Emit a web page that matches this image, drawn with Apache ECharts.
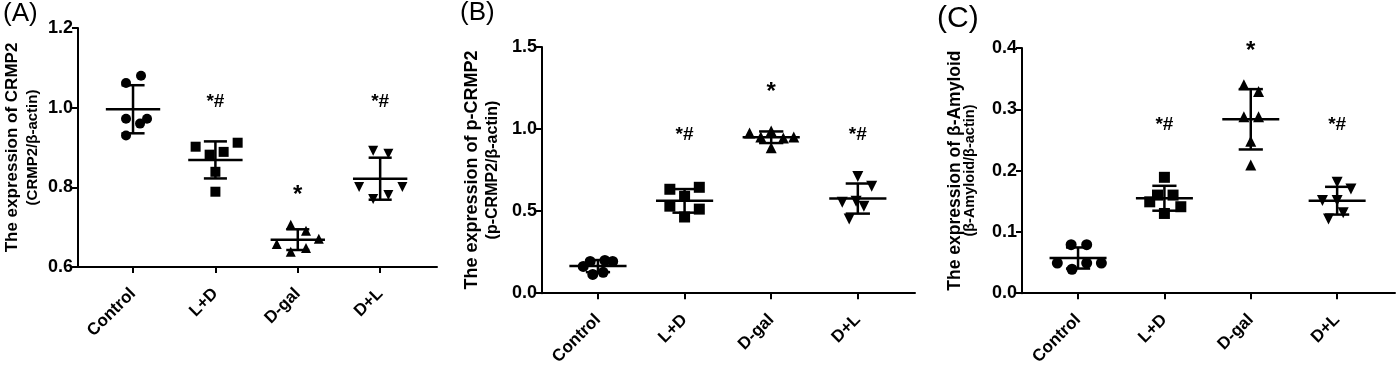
<!DOCTYPE html>
<html>
<head>
<meta charset="utf-8">
<script src="https://cdn.jsdelivr.net/npm/echarts@6/dist/echarts.min.js"></script>
<style>html,body{margin:0;padding:0;background:#fff;}#c{width:1400px;height:368px;}</style>
</head>
<body>
<div id="c"></div>
<script>
// ---------- data ----------
const categories = ['Control', 'L+D', 'D-gal', 'D+L'];

// Panel A: CRMP2 / β-actin
const aValues = [
  [1.062, 1.08, 0.972, 0.96, 0.972, 0.93],
  [0.902, 0.882, 0.889, 0.912, 0.839, 0.789],
  [0.706, 0.691, 0.671, 0.658, 0.638, 0.648],
  [0.892, 0.884, 0.801, 0.801, 0.771, 0.781]
];
const aJitter = [
  [-0.085, 0.097, -0.085, 0.085, 0.17, -0.085],
  [-0.24, -0.07, 0.1, 0.27, 0, 0],
  [-0.085, 0.1, 0.255, -0.255, -0.085, 0.1],
  [-0.085, 0.1, -0.255, 0.27, -0.085, 0.1]
];
const aMarks = ['', '*#', '*', '*#'];
const aMarkY = [null, 1.015, 0.78, 1.015];

// Panel B: p-CRMP2 / β-actin
const bValues = [
  [0.193, 0.199, 0.193, 0.163, 0.114, 0.127],
  [0.633, 0.645, 0.59, 0.53, 0.512, 0.464],
  [0.976, 0.952, 0.988, 0.946, 0.952, 0.886],
  [0.711, 0.651, 0.554, 0.56, 0.53, 0.452]
];
const bJitter = [
  [-0.09, 0.08, 0.17, -0.17, -0.06, 0.06],
  [-0.17, 0.17, 0, -0.17, 0.17, 0],
  [-0.25, -0.12, 0, 0.14, 0.26, 0],
  [0, 0.16, -0.18, -0.02, 0.07, -0.1]
];
const bMarks = ['', '*#', '*', '*#'];
const bMarkY = [null, 0.964, 1.223, 0.964];

// Panel C: β-Amyloid / β-actin
const cValues = [
  [0.079, 0.079, 0.049, 0.049, 0.049, 0.039],
  [0.189, 0.16, 0.16, 0.149, 0.141, 0.13],
  [0.34, 0.329, 0.288, 0.288, 0.248, 0.209],
  [0.181, 0.17, 0.151, 0.151, 0.131, 0.121]
];
const cJitter = [
  [-0.08, 0.1, -0.24, 0.27, 0.1, -0.07],
  [0, -0.08, 0.1, -0.17, 0.19, 0],
  [-0.08, 0.09, -0.08, 0.09, 0, 0],
  [0, 0.16, -0.17, 0, 0.07, -0.1]
];
const cMarks = ['', '*#', '*', '*#'];
const cMarkY = [null, 0.275, 0.395, 0.275];

// y-axis settings / tick labels
const aTicks = { min: 0.6, max: 1.2, interval: 0.2 };
const bTicks = { min: 0.0, max: 1.5, interval: 0.5 };
const cTicks = { min: 0.0, max: 0.4, interval: 0.1 };

const panelLetters = ['(A)', '(B)', '(C)'];
const yTitles = [
  ['The expression of CRMP2', '(CRMP2/β-actin)'],
  ['The expression of p-CRMP2', '(p-CRMP2/β-actin)'],
  ['The expression of β-Amyloid', '(β-Amyloid/β-actin)']
];

// ---------- helpers ----------
const FONT = '"Liberation Sans", Arial, sans-serif';
const symbols = [
  { symbol: 'circle', rotate: 0 },
  { symbol: 'rect', rotate: 0 },
  { symbol: 'triangle', rotate: 0 },
  { symbol: 'triangle', rotate: 180 }
];
function mean(a) { return a.reduce((s, v) => s + v, 0) / a.length; }
function sd(a) { const m = mean(a); return Math.sqrt(a.reduce((s, v) => s + (v - m) * (v - m), 0) / (a.length - 1)); }

const grids = [
  { left: 78, top: 28, width: 359, height: 239 },
  { left: 542, top: 47, width: 373, height: 248 },
  { left: 1022, top: 48, width: 373, height: 247 }
];
const xRange = [[-0.668, 3.69], [-0.646, 3.66], [-0.649, 3.67]];
const nameCfg = [
  { f1: 17, f2: 15, lh1: 22, lh2: 20, gap: 35 },
  { f1: 18, f2: 16, lh1: 22, lh2: 20, gap: 39 },
  { f1: 17.5, f2: 14.5, lh1: 16, lh2: 14, gap: 45 }
];
const panels = [
  { values: aValues, jitter: aJitter, marks: aMarks, markY: aMarkY, ticks: aTicks },
  { values: bValues, jitter: bJitter, marks: bMarks, markY: bMarkY, ticks: bTicks },
  { values: cValues, jitter: cJitter, marks: cMarks, markY: cMarkY, ticks: cTicks }
];

const xAxes = [], yAxes = [], series = [];
panels.forEach((p, pi) => {
  xAxes.push({
    gridIndex: pi, type: 'value', min: xRange[pi][0], max: xRange[pi][1],
    axisLine: { show: true, onZero: false, lineStyle: { color: '#000', width: 2 } },
    axisTick: { show: true, customValues: [0, 1, 2, 3], length: 6, lineStyle: { color: '#000', width: 2 } },
    axisLabel: {
      customValues: [0, 1, 2, 3], formatter: v => categories[Math.round(v)] || '',
      rotate: 45, fontSize: 17, fontWeight: 'bold', color: '#000', fontFamily: FONT, margin: 24
    },
    splitLine: { show: false }
  });
  const nc = nameCfg[pi];
  yAxes.push({
    gridIndex: pi, type: 'value', min: p.ticks.min, max: p.ticks.max, interval: p.ticks.interval,
    axisLine: { show: true, onZero: false, lineStyle: { color: '#000', width: 2 } },
    axisTick: { show: true, length: 6, lineStyle: { color: '#000', width: 2 } },
    axisLabel: { formatter: v => v.toFixed(1), fontSize: 18, fontWeight: 'bold', color: '#000', fontFamily: FONT, margin: 5 },
    splitLine: { show: false },
    name: '{a|' + yTitles[pi][0] + '}\n{b|' + yTitles[pi][1] + '}',
    nameLocation: 'middle', nameRotate: 90, nameGap: nc.gap,
    nameTextStyle: {
      color: '#000', fontFamily: FONT, align: 'center',
      rich: {
        a: { fontSize: nc.f1, fontWeight: 'bold', lineHeight: nc.lh1, color: '#000', fontFamily: FONT, align: 'center' },
        b: { fontSize: nc.f2, fontWeight: 'bold', lineHeight: nc.lh2, color: '#000', fontFamily: FONT, align: 'center' }
      }
    }
  });
  // scatter points
  p.values.forEach((vals, gi) => {
    series.push({
      type: 'scatter', xAxisIndex: pi, yAxisIndex: pi,
      symbol: symbols[gi].symbol, symbolRotate: symbols[gi].rotate,
      symbolSize: pi === 0 ? 10 : 11,
      itemStyle: { color: '#000', opacity: 1 },
      silent: true,
      data: vals.map((v, k) => [gi + p.jitter[gi][k], v])
    });
  });
  // mean ± SD
  series.push({
    type: 'custom', xAxisIndex: pi, yAxisIndex: pi, silent: true, z: 5,
    data: p.values.map((vals, gi) => [gi, mean(vals), sd(vals)]),
    renderItem: (params, api) => {
      const x = api.value(0), m = api.value(1), s = api.value(2);
      const c = api.coord([x, m]);
      const t = api.coord([x, m + s]);
      const b = api.coord([x, m - s]);
      const half = api.size([0.33, 0])[0];
      const cap = api.size([0.14, 0])[0];
      const st = { stroke: '#000', lineWidth: 2.5 };
      return {
        type: 'group', children: [
          { type: 'line', shape: { x1: c[0] - half, y1: c[1], x2: c[0] + half, y2: c[1] }, style: st },
          { type: 'line', shape: { x1: t[0], y1: t[1], x2: b[0], y2: b[1] }, style: st },
          { type: 'line', shape: { x1: t[0] - cap, y1: t[1], x2: t[0] + cap, y2: t[1] }, style: st },
          { type: 'line', shape: { x1: b[0] - cap, y1: b[1], x2: b[0] + cap, y2: b[1] }, style: st }
        ]
      };
    }
  });
  // significance marks
  const markList = p.marks.filter(m => m);
  series.push({
    type: 'custom', xAxisIndex: pi, yAxisIndex: pi, silent: true, clip: false,
    data: p.marks.map((m, gi) => [gi, p.markY[gi] == null ? p.ticks.min : p.markY[gi], m]).filter(d => d[2]),
    renderItem: (params, api) => {
      const c = api.coord([api.value(0), api.value(1)]);
      const txt = markList[params.dataIndex];
      return {
        type: 'text',
        style: {
          text: txt, x: c[0], y: c[1],
          align: 'center', verticalAlign: 'middle',
          font: 'bold ' + (txt === '*' ? 24 : 19) + 'px ' + FONT, fill: '#000'
        }
      };
    }
  });
});

const chart = echarts.init(document.getElementById('c'), null, { renderer: 'canvas' });
chart.setOption({
  animation: false,
  backgroundColor: '#fff',
  title: [
    { text: panelLetters[0], left: 3, top: 1, padding: 0, textStyle: { fontSize: 26, fontWeight: 'normal', color: '#000', fontFamily: FONT } },
    { text: panelLetters[1], left: 460, top: 0, padding: 0, textStyle: { fontSize: 26, fontWeight: 'normal', color: '#000', fontFamily: FONT } },
    { text: panelLetters[2], left: 937, top: 4, padding: 0, textStyle: { fontSize: 30, fontWeight: 'normal', color: '#000', fontFamily: FONT } }
  ],
  grid: grids,
  xAxis: xAxes,
  yAxis: yAxes,
  series: series
});
</script>
</body>
</html>
